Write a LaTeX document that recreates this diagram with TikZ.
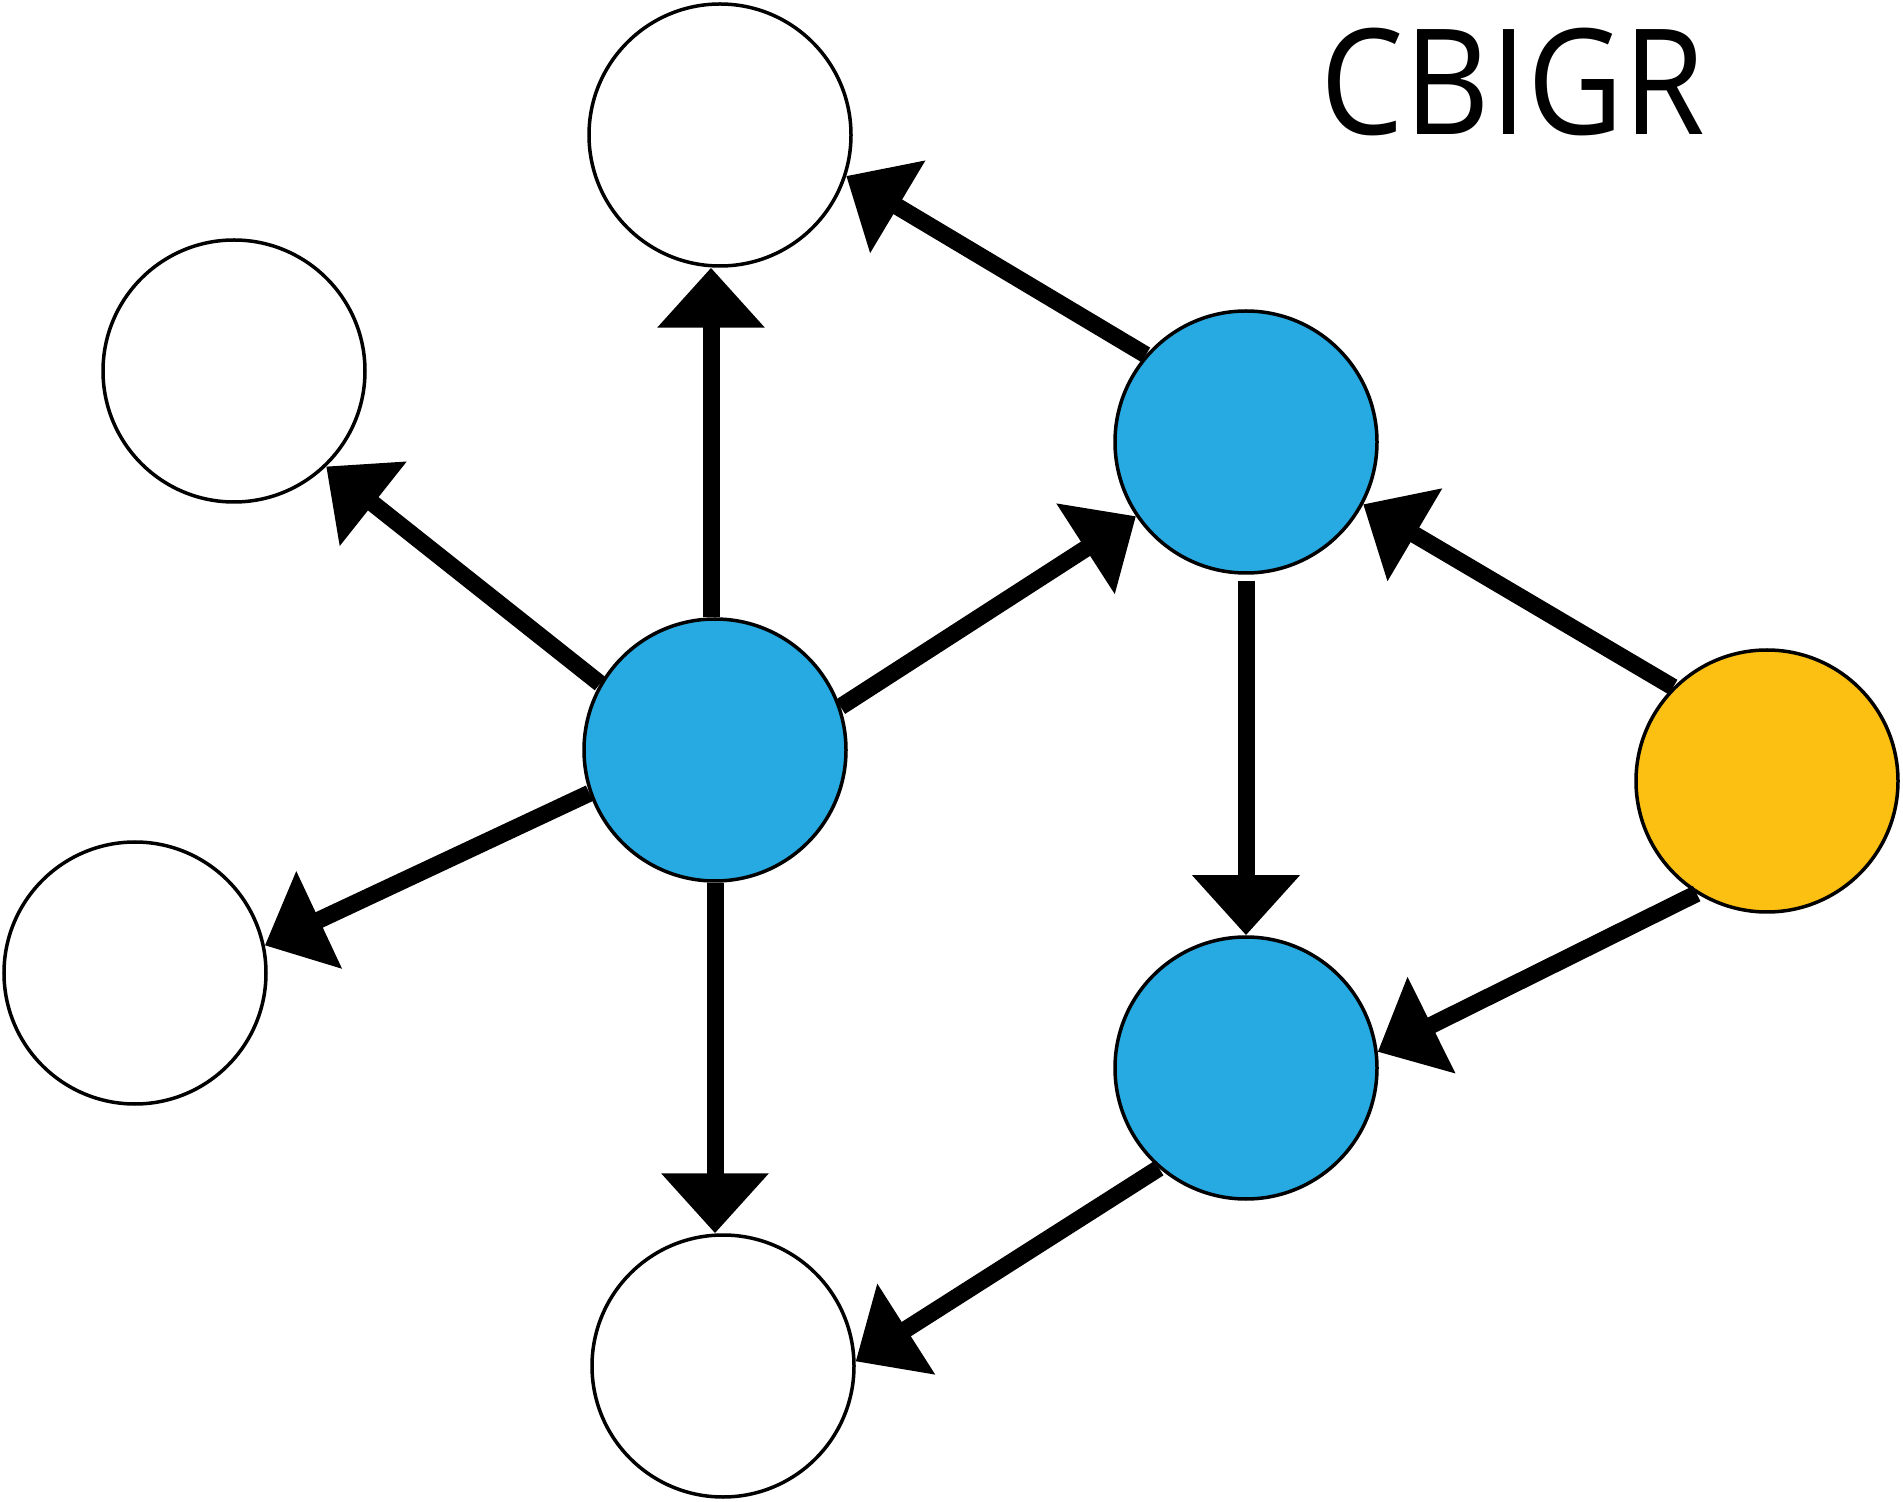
\documentclass[tikz,border=0pt]{standalone}
\usepackage{fontspec}
\newfontfamily\titlefont{Open Sans}
\usetikzlibrary{arrows.meta}
\definecolor{nodeblue}{RGB}{39,170,225}
\definecolor{nodeyellow}{RGB}{252,192,18}
\tikzset{
  vertex/.style={circle, draw=black, line width=1.75pt, inner sep=0pt, minimum size=131pt, fill=white},
  bluev/.style={vertex, fill=nodeblue},
  yellowv/.style={vertex, fill=nodeyellow},
  conn/.style={line width=8.5pt, -{Triangle[length=30pt,width=52pt]}},
}
\begin{document}
\begin{tikzpicture}[x=0.5pt,y=-0.5pt]
\useasboundingbox (0,0) rectangle (1903,1502);
\node[vertex] (T) at (720,135) {};
\node[vertex] (UL) at (234,371) {};
\node[bluev] (C) at (715,750) {};
\node[vertex] (L) at (135,973) {};
\node[vertex] (B) at (723,1366) {};
\node[bluev] (UR) at (1246,442) {};
\node[bluev] (LR) at (1246,1068) {};
\node[yellowv] (Y) at (1767,781) {};
\node[anchor=base, font=\titlefont\fontsize{73.5pt}{80pt}\selectfont, xscale=0.9, inner sep=0pt] (title) at (1513,135) {CBIGR};
\draw[conn] ([xshift=-2pt]C.north) -- ([xshift=-2pt]C.north |- T.south);
\draw[conn] (C.150) -- (UL.-46);
\draw[conn] (C.199) -- (L.12);
\draw[conn] (C.south) -- (C.south |- B.north);
\draw[conn] (C.19) -- (UR.-146);
\draw[conn] (UR.139) -- (T.-18);
\draw[conn] ([yshift=-3pt]UR.south) -- (UR.south |- LR.north);
\draw[conn] (Y.135) -- (UR.-28);
\draw[conn] (Y.238) -- (LR.7);
\draw[conn] (LR.229) -- (B.2);
\end{tikzpicture}
\end{document}
